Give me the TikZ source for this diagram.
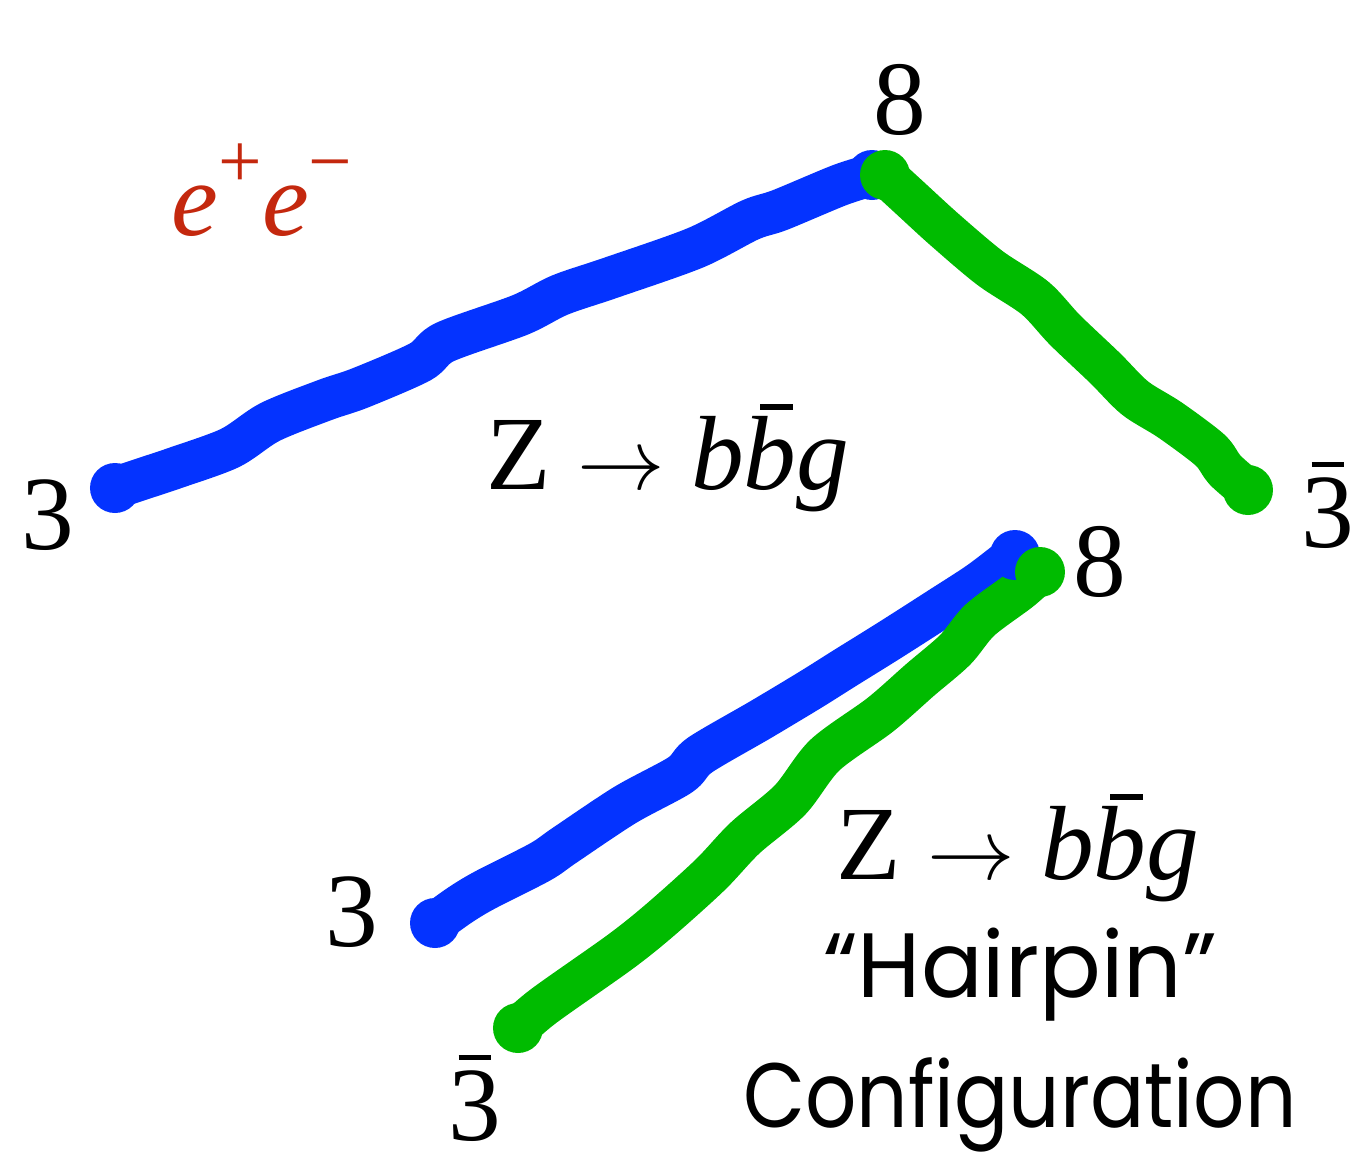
\documentclass[tikz,border=0pt]{standalone}
\usepackage{fontspec}
\setmainfont{Liberation Serif}
\newfontfamily\capfont{Poppins}
\definecolor{qblue}{RGB}{4,51,255}
\definecolor{qgreen}{RGB}{0,187,0}
\definecolor{eered}{RGB}{196,40,14}
% bar over a symbol: \anti[shift]{symbol}
\newcommand{\anti}[2][0pt]{\setbox0\hbox{#2}\rlap{\hbox to \wd0{\hss\kern#1\raisebox{0.76em}{\rule{0.62\wd0}{0.055em}}\hss}}\box0}
\usetikzlibrary{positioning}
\begin{document}
\begin{tikzpicture}[
	qstring/.style={line width=12pt, line cap=round, line join=round},
	lab/.style={font=\fontsize{30}{36}\selectfont, inner sep=0pt},
	caption/.style={font=\capfont\fontsize{26}{30}\selectfont, inner sep=0pt}]
	\useasboundingbox (0,0) rectangle (13.61,-11.57);

	% e+e- -> Z -> b bbar g, open configuration
	\draw[qstring, qblue] plot[smooth, tension=.5] coordinates {(1.15,-4.88) (1.45,-4.78) (1.75,-4.68) (2.30,-4.48) (2.70,-4.22) (3.25,-4.00) (3.60,-3.88) (4.20,-3.62) (4.45,-3.42) (5.20,-3.15) (5.60,-2.95) (6.10,-2.78) (6.95,-2.48) (7.50,-2.20) (7.80,-2.10) (8.40,-1.85) (8.72,-1.75)};
	\draw[qstring, qgreen] plot[smooth, tension=.5] coordinates {(8.85,-1.75) (9.10,-1.98) (9.45,-2.30) (9.90,-2.68) (10.35,-2.98) (10.65,-3.30) (11.05,-3.68) (11.35,-3.98) (11.70,-4.20) (12.10,-4.50) (12.25,-4.70) (12.48,-4.90)};
	\foreach \p in {(1.15,-4.88),(8.72,-1.75)} \fill[qblue] \p circle (0.25);
	\foreach \p in {(8.85,-1.75),(12.48,-4.90)} \fill[qgreen] \p circle (0.25);

	% hairpin
	\draw[qstring, qblue] plot[smooth, tension=.5] coordinates {(4.35,-9.23) (4.60,-9.05) (4.85,-8.90) (5.40,-8.62) (5.65,-8.45) (6.25,-8.05) (6.80,-7.75) (7.00,-7.55) (7.60,-7.20) (8.10,-6.90) (8.45,-6.68) (8.90,-6.40) (9.40,-6.08) (9.80,-5.82) (10.15,-5.55)};
	\draw[qstring, qgreen] plot[smooth, tension=.5] coordinates {(5.18,-10.28) (5.45,-10.05) (6.20,-9.52) (6.60,-9.20) (7.10,-8.75) (7.45,-8.38) (7.90,-8.00) (8.25,-7.55) (8.80,-7.15) (9.20,-6.80) (9.55,-6.50) (9.80,-6.20) (10.20,-5.90) (10.40,-5.72)};
	\foreach \p in {(4.35,-9.23),(10.15,-5.55)} \fill[qblue] \p circle (0.25);
	\foreach \p in {(5.18,-10.28),(10.40,-5.72)} \fill[qgreen] \p circle (0.25);

	\node[lab] (q1) at (0.48,-5.15) {3};
	\node[lab] (g1) at (9.00,-1.00) {8};
	\node[lab] (qb1) at (13.28,-5.05) {\anti{3}};
	\node[lab, eered] (ee) at (2.62,-1.90) {\textit{e}\raisebox{.45em}{\fontsize{22}{24}\selectfont +}\textit{e}\raisebox{.45em}{\fontsize{22}{24}\selectfont \textminus}};
	\node[lab] (proc1) at (6.68,-4.58) {Z \(\rightarrow\) \textit{b}\anti[0.12em]{\itshape b}\textit{g}};

	\node[lab] (q2) at (3.52,-9.12) {3};
	\node[lab] (g2) at (11.00,-5.62) {8};
	\node[lab] (qb2) at (4.75,-10.98) {\anti{3}};
	\node[lab] (proc2) at (10.18,-8.48) {Z \(\rightarrow\) \textit{b}\anti[0.12em]{\itshape b}\textit{g}};
	\node[caption] (hp) at (10.20,-9.75) {“Hairpin”};
	\node[caption] (conf) at (10.20,-11.05) {\scalebox{0.88}[1]{Configuration}};
\end{tikzpicture}
\end{document}
